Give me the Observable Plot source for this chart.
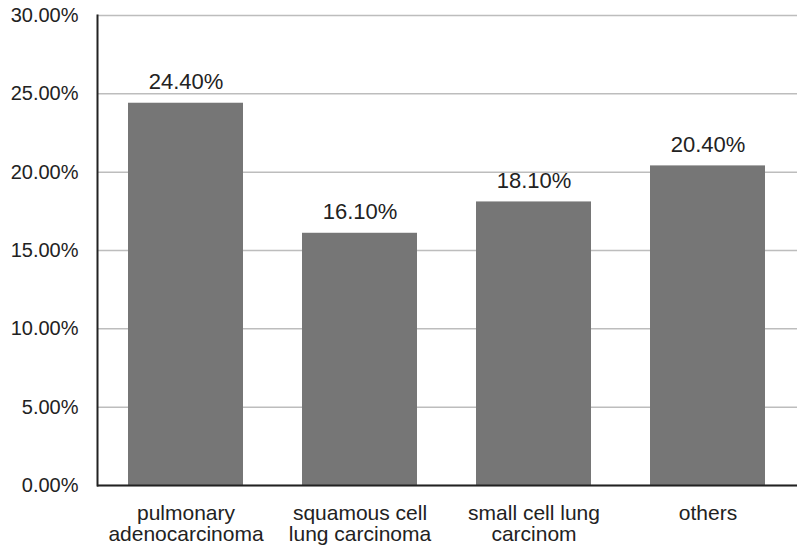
<!DOCTYPE html>
<html>
<head>
<meta charset="utf-8">
<script src="https://cdn.jsdelivr.net/npm/d3@7"></script>
<script src="https://cdn.jsdelivr.net/npm/@observablehq/plot@0.6"></script>
<style>
  html, body { margin: 0; padding: 0; background: #fff; }
  #chart { width: 800px; height: 552px; }
</style>
</head>
<body>
<div id="chart"></div>
<script>
const categories = ["pulmonary adenocarcinoma", "squamous cell lung carcinoma", "small cell lung carcinom", "others"];
const tickLabels = ["pulmonary\nadenocarcinoma", "squamous cell\nlung carcinoma", "small cell lung\ncarcinom", "others"];
const values = [24.40, 16.10, 18.10, 20.40];
const yTicks = [0, 5, 10, 15, 20, 25, 30];

const data = categories.map((c, i) => ({category: c, value: values[i]}));
const labelOf = new Map(categories.map((c, i) => [c, tickLabels[i]]));
const fmt = d => d.toFixed(2) + "%";

const chart = Plot.plot({
  width: 800,
  height: 552,
  marginLeft: 97,
  marginRight: 3,
  marginTop: 15,
  marginBottom: 67,
  style: {fontFamily: "'Liberation Sans', Arial, sans-serif", fontSize: "20px", color: "#222", background: "#fff"},
  x: {domain: categories, paddingInner: 0.337, paddingOuter: 0.17, label: null},
  y: {domain: [0, 30], label: null},
  marks: [
    Plot.gridY(yTicks, {stroke: "#bdbdbd", strokeOpacity: 1, strokeWidth: 1.5}),
    Plot.barY(data, {x: "category", y: "value", fill: "#767676"}),
    Plot.text(data, {x: "category", y: "value", text: d => fmt(d.value), lineAnchor: "bottom", dy: -14, fill: "#222", fontSize: 22}),
    Plot.axisY({ticks: yTicks, tickFormat: fmt, tickSize: 0, tickPadding: 19, fontSize: 20, fill: "#222"}),
    Plot.axisX({tickFormat: d => labelOf.get(d), tickSize: 0, tickPadding: 20, fontSize: 21, lineHeight: 1.0, fill: "#222"}),
    Plot.frame({anchor: "left", stroke: "#222", strokeWidth: 2}),
    Plot.ruleY([0], {stroke: "#222", strokeWidth: 2})
  ]
});
document.getElementById("chart").appendChild(chart);
</script>
</body>
</html>
